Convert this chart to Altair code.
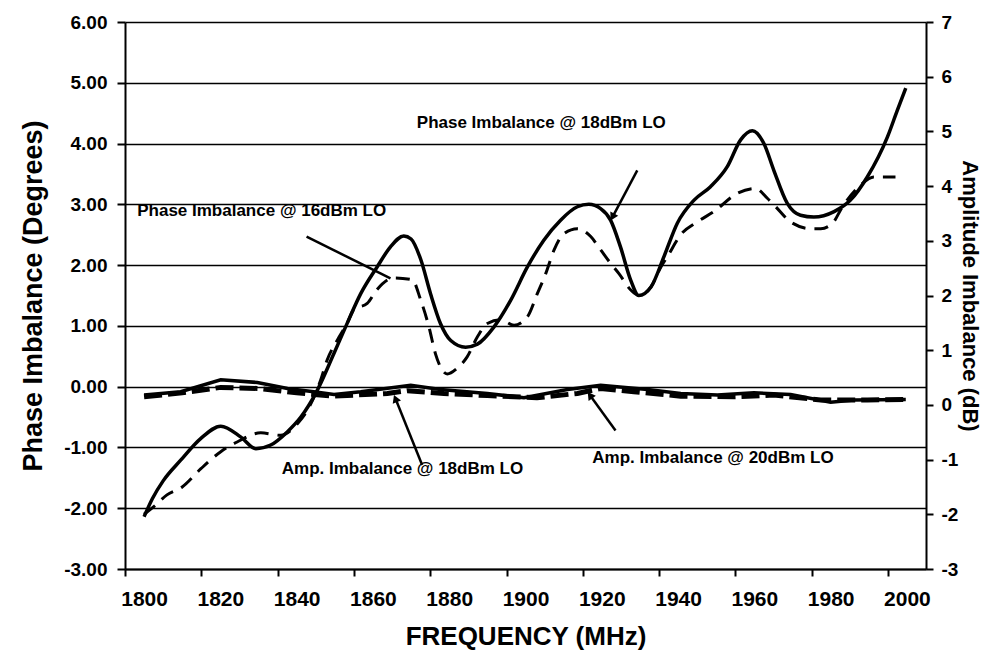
import math
import altair as alt
import pandas as pd

# ---------------- data ----------------
FREQ_TICKS = [1800, 1820, 1840, 1860, 1880, 1900, 1920, 1940, 1960, 1980, 2000]
PHASE_TICKS = [-3, -2, -1, 0, 1, 2, 3, 4, 5, 6]
AMP_TICKS = [-3, -2, -1, 0, 1, 2, 3, 4, 5, 6, 7]

# Phase imbalance @ 18dBm LO (solid)
ph18_freq = [1800, 1802.2, 1805, 1809.6, 1814.9, 1820.1, 1825.4, 1829.3, 1833.2, 1837.6,
             1841.1, 1845, 1849.8, 1853.3, 1856.8, 1861.1, 1864.6, 1868.1, 1870, 1872.5,
             1875.1, 1877.7, 1880.4, 1884.3, 1887.4, 1891.7, 1896.1, 1900.5, 1904.8, 1909.2,
             1913.6, 1916.6, 1919.7, 1922.3, 1924.9, 1927.6, 1929.7, 1932.9, 1936.3, 1939.8,
             1944.2, 1948.5, 1952.9, 1956.4, 1959.5, 1962.5, 1965.1, 1968.6, 1972.1, 1975.6,
             1980.9, 1985.2, 1989.6, 1994.9, 1997.5, 1999.7]
ph18_val = [-2.14, -1.84, -1.55, -1.21, -0.85, -0.65, -0.83, -1.02, -0.96, -0.74,
            -0.50, -0.11, 0.55, 1.05, 1.53, 1.97, 2.30, 2.48, 2.43, 2.10,
            1.53, 1.04, 0.76, 0.65, 0.70, 0.98, 1.42, 1.97, 2.41, 2.74,
            2.96, 3.00, 2.93, 2.74, 2.30, 1.75, 1.50, 1.64, 2.14, 2.69,
            3.07, 3.29, 3.62, 4.06, 4.21, 4.00, 3.56, 3.02, 2.82, 2.79,
            2.88, 3.07, 3.45, 4.11, 4.55, 4.91]

# Phase imbalance @ 16dBm LO (dashed)
ph16_freq = [1800, 1803, 1806, 1810, 1814.9, 1820.1, 1824.4, 1830.6, 1835.8, 1840.2,
             1842.8, 1846.3, 1848, 1850.7, 1853.3, 1855, 1858.5, 1861.1, 1865.5, 1870.3,
             1872.5, 1874.7, 1876.4, 1879.5, 1882, 1884.7, 1887.4, 1890, 1893.5, 1897,
             1900.5, 1903.1, 1905.3, 1907.5, 1910.1, 1913.6, 1917.1, 1919.7, 1922.3, 1924.5,
             1927.6, 1929.7, 1932.9, 1935.5, 1937.2, 1940.7, 1945, 1949.4, 1955.5, 1960.3,
             1963.4, 1965.6, 1969.5, 1974.8, 1977.4, 1980.5, 1983.1, 1987.9, 1991.3, 1997]
ph16_val = [-2.10, -1.95, -1.78, -1.65, -1.35, -1.07, -0.91, -0.76, -0.80, -0.61,
            -0.39, 0.11, 0.44, 0.77, 1.05, 1.27, 1.37, 1.60, 1.79, 1.76,
            1.43, 0.98, 0.54, 0.21, 0.30, 0.49, 0.82, 1.04, 1.10, 1.01,
            1.15, 1.53, 1.86, 2.25, 2.52, 2.60, 2.47, 2.25, 2.03, 1.86,
            1.59, 1.50, 1.64, 1.97, 2.14, 2.50, 2.71, 2.88, 3.18, 3.26,
            3.10, 2.96, 2.71, 2.60, 2.60, 2.69, 2.96, 3.32, 3.45, 3.45]

# Amplitude imbalance @ 20dBm LO (solid), dB
amp20_freq = [1800, 1809.6, 1820.1, 1829.7, 1837.6, 1844.5, 1849.8, 1856.8, 1869.9, 1877.7,
              1890, 1899.6, 1911, 1919.7, 1932, 1940.7, 1950.3, 1959.9, 1969.5, 1980,
              1986.1, 1999.7]
amp20_val = [0.18, 0.24, 0.46, 0.41, 0.30, 0.24, 0.19, 0.24, 0.36, 0.28,
             0.21, 0.13, 0.28, 0.36, 0.28, 0.21, 0.18, 0.22, 0.19, 0.05,
             0.09, 0.10]

# Amplitude imbalance @ 18dBm LO (dashed), dB
amp18_freq = [1800, 1810, 1820.1, 1830, 1840, 1849.8, 1863.8, 1869, 1878.6, 1890,
              1903, 1913.6, 1919.7, 1928.4, 1940.7, 1954.7, 1965.1, 1977.4, 1989.6, 1999.7]
amp18_val = [0.15, 0.22, 0.32, 0.30, 0.22, 0.16, 0.21, 0.26, 0.21, 0.17,
             0.13, 0.21, 0.30, 0.24, 0.16, 0.15, 0.18, 0.09, 0.09, 0.10]

# Annotations (positions in MHz / degrees)
note_text = ["Phase Imbalance @ 18dBm LO", "Phase Imbalance @ 16dBm LO",
             "Amp. Imbalance @ 18dBm LO", "Amp. Imbalance @ 20dBm LO"]
note_freq = [1871.5, 1798.2, 1836.1, 1917.5]
note_val = [4.33, 2.89, -1.36, -1.18]

# Arrows: tail -> head (MHz / degrees)
arr_f1 = [1842.6, 1929.3, 1872.9, 1923.6]
arr_v1 = [2.47, 3.56, -1.29, -0.72]
arr_f2 = [1864.6, 1922.8, 1865.9, 1916.9]
arr_v2 = [1.78, 2.79, -0.195, -0.14]
arr_head = [False, True, True, True]

# ---------------- layout ----------------
FONT = "Liberation Sans"
W, H = 801, 547
X_DOM = [1795, 2005]
YL_DOM = [-3, 6]
YR_DOM = [-3, 7]
px_per_mhz = W / (X_DOM[1] - X_DOM[0])
px_per_deg = H / (YL_DOM[1] - YL_DOM[0])

x_scale = alt.Scale(domain=X_DOM, nice=False, zero=False)
yl_scale = alt.Scale(domain=YL_DOM, nice=False, zero=False)
yr_scale = alt.Scale(domain=YR_DOM, nice=False, zero=False)

common = dict(labelFont=FONT, titleFont=FONT, labelFontWeight="bold", titleFontWeight="bold",
              labelColor="black", titleColor="black", domainColor="black", tickColor="black",
              domainWidth=2, tickWidth=2)

x_axis = alt.Axis(values=FREQ_TICKS, format="d", title="FREQUENCY (MHz)", grid=False,
                  labelFontSize=21, titleFontSize=26, tickSize=7, tickOffset=-19, labelOffset=19,
                  labelPadding=12, titlePadding=14, labelFlush=False, labelOverlap=False, **common)
yl_axis = alt.Axis(values=PHASE_TICKS, title="Phase Imbalance (Degrees)",
                   labelExpr="replace(format(datum.value, '.2f'), '\u2212', '-')",
                   grid=True, gridColor="black", gridWidth=1.5, gridOpacity=1,
                   labelFontSize=19, titleFontSize=27, tickSize=8, labelPadding=10,
                   titlePadding=16, **common)
yr_axis = alt.Axis(values=AMP_TICKS, title="Amplitude Imbalance (dB)", orient="right",
                   labelExpr="replace(format(datum.value, 'd'), '\u2212', '-')",
                   grid=False, labelFontSize=19, titleFontSize=22, tickSize=7, labelPadding=8,
                   titlePadding=0, **common)

X = alt.X("freq:Q", scale=x_scale, axis=x_axis)
YL = alt.Y("val:Q", scale=yl_scale, axis=yl_axis)
YR = alt.Y("val:Q", scale=yr_scale, axis=yr_axis)

def frame(fs, vs, name):
    return pd.DataFrame({"freq": fs, "val": vs, "series": name})

ph18 = alt.Chart(frame(ph18_freq, ph18_val, "ph18")).mark_line(
    color="black", strokeWidth=3.5, interpolate="monotone").encode(x=X, y=YL)
ph16 = alt.Chart(frame(ph16_freq, ph16_val, "ph16")).mark_line(
    color="black", strokeWidth=3, strokeDash=[14, 9], interpolate="monotone").encode(x=X, y=YL)

notes = alt.Chart(pd.DataFrame({"freq": note_freq, "val": note_val, "t": note_text})).mark_text(
    align="left", baseline="middle", font=FONT, fontWeight="bold", fontSize=17, color="black"
).encode(x=X, y=YL, text="t:N")

arr_df = pd.DataFrame({"freq": arr_f1, "val": arr_v1, "f2": arr_f2, "v2": arr_v2, "head": arr_head})
arr_df["ang"] = [
    (math.degrees(math.atan2((f2 - f1) * px_per_mhz, (v2 - v1) * px_per_deg)) + 360) % 360
    for f1, v1, f2, v2 in zip(arr_f1, arr_v1, arr_f2, arr_v2)
]
rules = alt.Chart(arr_df).mark_rule(color="black", strokeWidth=2.5).encode(
    x=X, y=YL, x2="f2:Q", y2="v2:Q")
heads = alt.Chart(arr_df[arr_df["head"]]).mark_point(
    shape="triangle-up", filled=True, color="black", size=80, opacity=1).encode(
    x=alt.X("f2:Q", scale=x_scale, axis=x_axis), y=alt.Y("v2:Q", scale=yl_scale, axis=yl_axis),
    angle=alt.Angle("ang:Q", scale=None))

amp18 = alt.Chart(frame(amp18_freq, amp18_val, "amp18")).mark_line(
    color="black", strokeWidth=5, strokeDash=[18, 6]).encode(x=X, y=YR)
amp20 = alt.Chart(frame(amp20_freq, amp20_val, "amp20")).mark_line(
    color="black", strokeWidth=3.5).encode(x=X, y=YR)

left = alt.layer(ph16, ph18, rules, heads, notes)
right = alt.layer(amp18, amp20)

chart = alt.layer(left, right).resolve_scale(y="independent").properties(
    width=W, height=H,
    autosize=alt.AutoSizeParams(type="none"),
    padding={"left": 117, "top": 14, "right": 58, "bottom": 82},
    background="white",
).configure_view(stroke=None)

chart.save("out.html", embed_options={"renderer": "svg", "actions": False})
